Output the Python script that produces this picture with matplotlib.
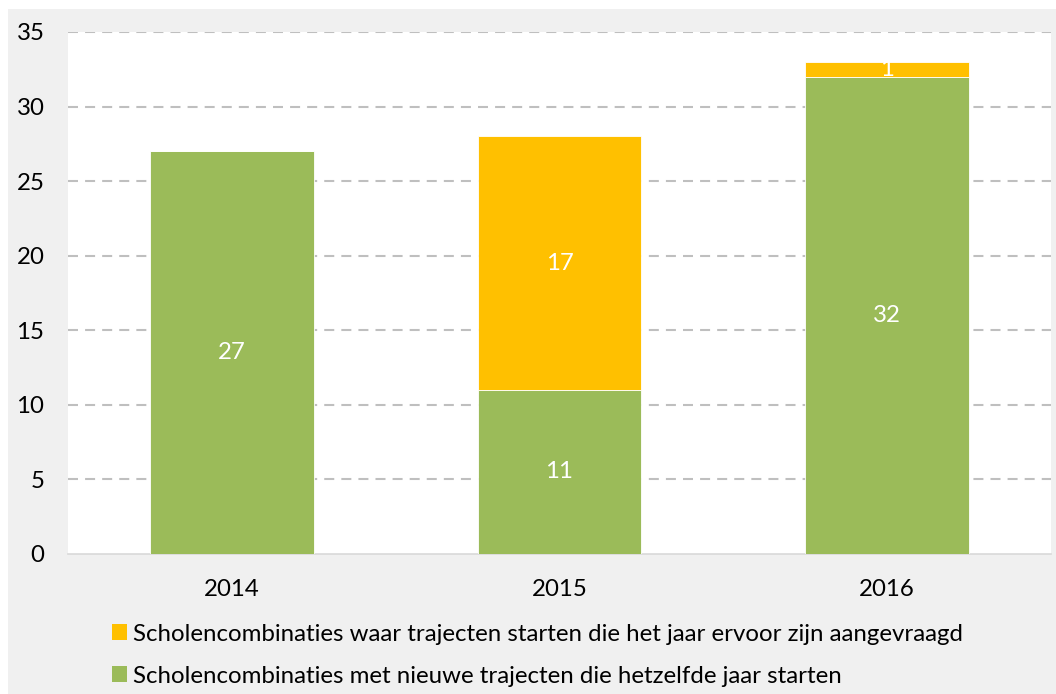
import matplotlib
matplotlib.use("Agg")
import matplotlib.pyplot as plt
from matplotlib.patches import Rectangle, Patch

categories = ["2014", "2015", "2016"]
nieuwe = [27, 11, 32]
aangevraagd = [0, 17, 1]
label_aangevraagd = "Scholencombinaties waar trajecten starten die het jaar ervoor zijn aangevraagd"
label_nieuwe = "Scholencombinaties met nieuwe trajecten die hetzelfde jaar starten"
yticks = [0, 5, 10, 15, 20, 25, 30, 35]

GREEN = "#9BBB59"
YELLOW = "#FFC000"
BG = "#F0F0F0"
FS = 17.3

plt.rcParams["font.family"] = ["Lato", "DejaVu Sans"]
W, H = 1056, 694
fig = plt.figure(figsize=(W / 100, H / 100), dpi=100, facecolor="white")
fig.patches.append(Rectangle((8 / W, 0), (W - 8) / W, (H - 9) / H,
                             transform=fig.transFigure, facecolor=BG,
                             edgecolor="none", zorder=-10))

left, right, top, bottom = 68, 1051, 32, 554
ax = fig.add_axes([left / W, (H - bottom) / H, (right - left) / W, (bottom - top) / H])
ax.set_facecolor("white")

x = list(range(len(categories)))
ax.bar(x, nieuwe, width=0.5, color=GREEN, edgecolor="white", linewidth=0.6, zorder=3)
ax.bar(x, aangevraagd, width=0.5, bottom=nieuwe, color=YELLOW, edgecolor="white", linewidth=0.6, zorder=3)

for i in x:
    if nieuwe[i] > 0:
        ax.text(i, nieuwe[i] / 2, str(nieuwe[i]), ha="center", va="center",
                color="white", fontsize=FS, zorder=4)
    if aangevraagd[i] > 0:
        ax.text(i, nieuwe[i] + aangevraagd[i] / 2, str(aangevraagd[i]), ha="center",
                va="center", color="white", fontsize=FS, zorder=4)

ax.set_xlim(-0.5, len(categories) - 0.5)
ax.set_ylim(0, 35)
ax.set_yticks(yticks)
ax.set_yticklabels([str(v) for v in yticks])
ax.set_xticks(x)
ax.set_xticklabels(categories)
ax.tick_params(axis="both", length=0, labelsize=FS, colors="black")
ax.tick_params(axis="y", pad=17)
ax.tick_params(axis="x", pad=18)
for v in yticks[1:]:
    ax.axhline(v, color="#BFBFBF", linewidth=1.5, linestyle=(0, (4.8, 3.4)), zorder=1)
for s in ["top", "right", "left"]:
    ax.spines[s].set_visible(False)
ax.spines["bottom"].set_color("#D9D9D9")
ax.spines["bottom"].set_linewidth(1.2)

handles = [Patch(facecolor=YELLOW, edgecolor="none"), Patch(facecolor=GREEN, edgecolor="none")]
fig.legend(handles, [label_aangevraagd, label_nieuwe], loc="upper left",
           bbox_to_anchor=(90 / W, 1 - 602 / H), frameon=False, fontsize=FS,
           handlelength=0.62, handleheight=0.62, handletextpad=0.25, labelspacing=0.87)

fig.savefig("out.png", dpi=100, facecolor="white")
